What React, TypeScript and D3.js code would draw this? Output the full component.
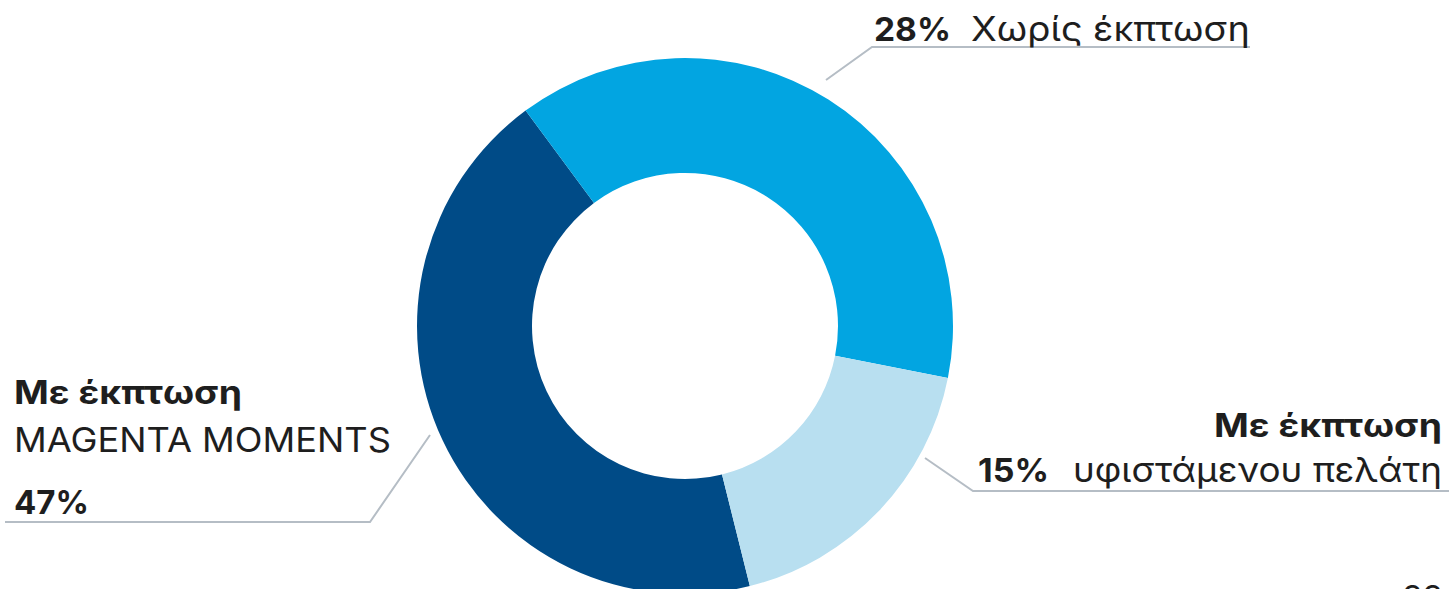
import React from "react";
import * as d3 from "d3";

// Segments in drawing order (clockwise)
const categories = ["Με έκπτωση MAGENTA MOMENTS", "Χωρίς έκπτωση", "Με έκπτωση υφιστάμενου πελάτη"];
const percentLabels = ["47%", "28%", "15%"];
// Shares of the ring as drawn in the picture
const arcShares = [43.75, 38.25, 18];
const colors = ["#004B87", "#02A5E1", "#B8DFF0"];
const pageNumber = "33";

const W = 1449;
const H = 589;
const CX = 685;
const CY = 326;
const R_OUT = 268;
const R_IN = 153;
const START_DEG = 166;

const FONT = "Inter, 'Noto Sans', sans-serif";
const TEXT = "#1e1e1e";
const LINE = "#B5BDC5";
const ADJ = "spacingAndGlyphs";

export default function App() {
  const pie = d3
    .pie<number>()
    .sort(null)
    .startAngle((START_DEG * Math.PI) / 180)
    .endAngle((START_DEG * Math.PI) / 180 + 2 * Math.PI);
  const arcs = pie(arcShares);
  const arcGen = d3.arc<d3.PieArcDatum<number>>().innerRadius(R_IN).outerRadius(R_OUT);
  const line = d3.line();

  return (
    <svg
      width={W}
      height={H}
      style={{ position: "absolute", left: 0, top: 0, background: "#fff" }}
      fontFamily={FONT}
    >
      <g transform={`translate(${CX},${CY})`}>
        {arcs.map((a, i) => (
          <path key={categories[i]} d={arcGen(a) || ""} fill={colors[i]} />
        ))}
      </g>

      {/* leader lines */}
      <path d={line([[826, 80], [872, 47], [1250, 47]]) || ""} fill="none" stroke={LINE} strokeWidth={2} />
      <path d={line([[925, 458], [973, 491], [1449, 491]]) || ""} fill="none" stroke={LINE} strokeWidth={2} />
      <path d={line([[430, 435], [370, 522], [5, 522]]) || ""} fill="none" stroke={LINE} strokeWidth={2} />

      {/* top label */}
      <text x={874} y={41} fontSize={33} fontWeight={700} fill={TEXT} textLength={77} lengthAdjust={ADJ}>
        {percentLabels[1]}
      </text>
      <text x={971} y={41} fontSize={34} fill={TEXT} textLength={279} lengthAdjust={ADJ}>
        Χωρίς έκπτωση
      </text>

      {/* right label */}
      <text x={1214} y={437} fontSize={33} fontWeight={700} fill={TEXT} textLength={228} lengthAdjust={ADJ}>
        Με έκπτωση
      </text>
      <text x={978} y={482} fontSize={33} fontWeight={700} fill={TEXT} textLength={71} lengthAdjust={ADJ}>
        {percentLabels[2]}
      </text>
      <text x={1073} y={482} fontSize={34} fill={TEXT} textLength={369} lengthAdjust={ADJ}>
        υφιστάμενου πελάτη
      </text>

      {/* left label */}
      <text x={14} y={404} fontSize={33} fontWeight={700} fill={TEXT} textLength={228} lengthAdjust={ADJ}>
        Με έκπτωση
      </text>
      <text x={14} y={452} fontSize={34} fill={TEXT} textLength={377} lengthAdjust={ADJ}>
        MAGENTA MOMENTS
      </text>
      <text x={14} y={514} fontSize={33} fontWeight={700} fill={TEXT} textLength={75} lengthAdjust={ADJ}>
        {percentLabels[0]}
      </text>

      {/* page number, cut off at the bottom */}
      <text x={1443} y={609} fontSize={33} fill={TEXT} textAnchor="end">
        {pageNumber}
      </text>
    </svg>
  );
}
